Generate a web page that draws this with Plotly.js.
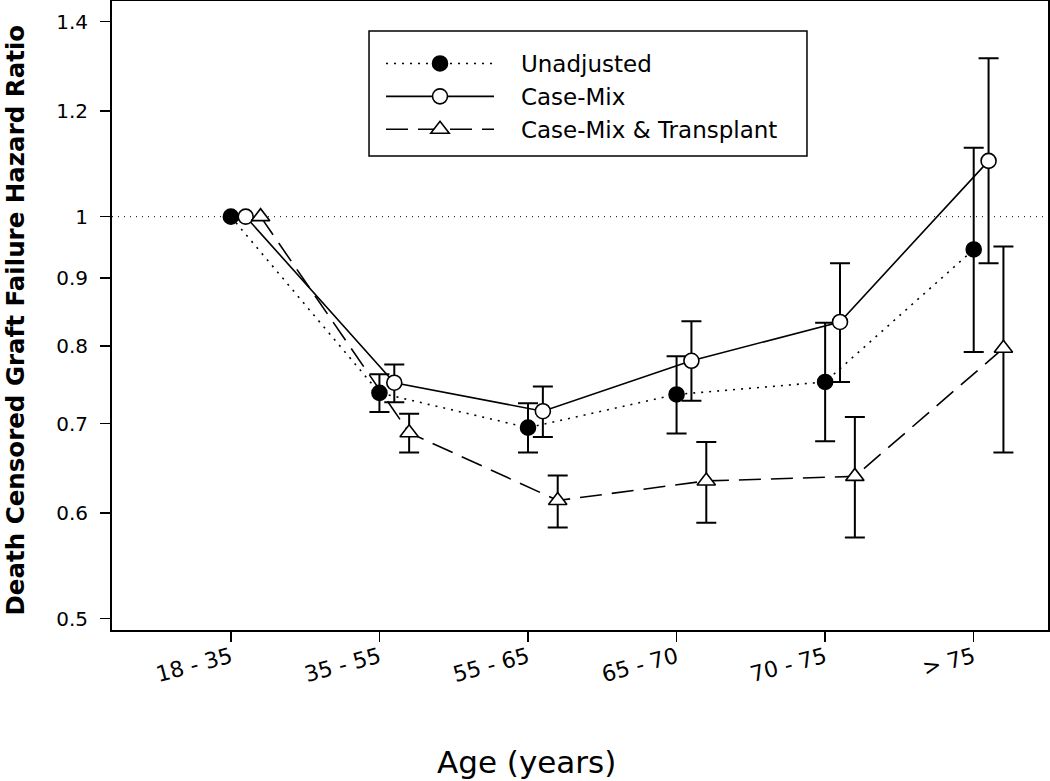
<!DOCTYPE html>
<html>
<head>
<meta charset="utf-8">
<script src="https://cdn.plot.ly/plotly-3.0.1.min.js"></script>
<style>html,body{margin:0;padding:0;background:#fff;}#chart{width:1050px;height:781px;}</style>
</head>
<body>
<div id="chart"></div>
<script>
var categories = ['18 - 35', '35 - 55', '55 - 65', '65 - 70', '70 - 75', '> 75'];

var unadjusted   = [1.0, 0.738, 0.695, 0.736, 0.752, 0.945];
var unadjustedLo = [null, 0.714, 0.666, 0.688, 0.679, 0.792];
var unadjustedHi = [null, 0.762, 0.725, 0.786, 0.833, 1.126];

var caseMix   = [1.0, 0.751, 0.715, 0.780, 0.834, 1.101];
var caseMixLo = [null, 0.726, 0.684, 0.728, 0.752, 0.923];
var caseMixHi = [null, 0.775, 0.746, 0.835, 0.923, 1.314];

var transplant   = [1.0, 0.689, 0.613, 0.634, 0.639, 0.797];
var transplantLo = [null, 0.666, 0.585, 0.590, 0.575, 0.666];
var transplantHi = [null, 0.712, 0.640, 0.678, 0.708, 0.950];

var seriesNames = ['Unadjusted', 'Case-Mix', 'Case-Mix & Transplant'];

var yTickVals = [0.5, 0.6, 0.7, 0.8, 0.9, 1, 1.2, 1.4];
var yTickText = ['0.5', '0.6', '0.7', '0.8', '0.9', '1', '1.2', '1.4'];

var FONT = 'DejaVu Sans, Verdana, sans-serif';
var PAD = '\u00a0\u00a0\u00a0';

function idx(offset) { return categories.map(function (c, i) { return i + offset; }); }
function plus(v, hi) { return v.map(function (x, i) { return hi[i] == null ? NaN : hi[i] - x; }); }
function minus(v, lo) { return v.map(function (x, i) { return lo[i] == null ? NaN : x - lo[i]; }); }

function series(name, vals, lo, hi, offset, dash, symbol, fill) {
  return {
    type: 'scatter', mode: 'lines+markers', name: PAD + name,
    x: idx(offset), y: vals,
    line: { color: '#000', width: 1.6, dash: dash },
    marker: { symbol: symbol, size: symbol.indexOf('triangle') === 0 ? 16 : 15, color: fill,
              line: { color: '#000', width: 1.6 } },
    error_y: { type: 'data', symmetric: false, array: plus(vals, hi), arrayminus: minus(vals, lo),
               color: '#000', thickness: 2, width: 10 },
    cliponaxis: false
  };
}

var data = [
  series(seriesNames[0], unadjusted, unadjustedLo, unadjustedHi, 0, '2px,6px', 'circle', '#000'),
  series(seriesNames[1], caseMix, caseMixLo, caseMixHi, 0.1, 'solid', 'circle', '#fff'),
  series(seriesNames[2], transplant, transplantLo, transplantHi, 0.2, '22px,10px', 'triangle-up', '#fff')
];

var layout = {
  width: 1050, height: 781,
  margin: { l: 112, r: 2, t: 1, b: 151 },
  paper_bgcolor: '#fff', plot_bgcolor: '#fff',
  font: { family: FONT, color: '#000', size: 20 },
  showlegend: true,
  legend: {
    x: 0.2874, y: 0.9348, xanchor: 'left', yanchor: 'top',
    borderwidth: 0, bgcolor: 'rgba(0,0,0,0)',
    font: { family: FONT, size: 23, color: '#000' },
    itemwidth: 108, tracegroupgap: 0
  },
  xaxis: {
    range: [-0.80, 5.50],
    tickvals: idx(0), ticktext: categories, tickangle: -15,
    ticks: 'outside', ticklen: 10, tickwidth: 1.5, tickcolor: '#000',
    ticklabelstandoff: -6,
    showline: true, linecolor: '#000', linewidth: 2, mirror: true,
    showgrid: false, zeroline: false,
    tickfont: { family: FONT, size: 22, color: '#000' }
  },
  yaxis: {
    type: 'log',
    range: [Math.log10(0.4903), Math.log10(1.4505)],
    tickvals: yTickVals, ticktext: yTickText,
    ticks: 'outside', ticklen: 10, tickwidth: 1.5, tickcolor: '#000',
    ticklabelstandoff: 8,
    showline: true, linecolor: '#000', linewidth: 2, mirror: true,
    showgrid: false, zeroline: false,
    tickfont: { family: FONT, size: 20, color: '#000' }
  },
  shapes: [
    { type: 'line', xref: 'paper', x0: 0, x1: 1, yref: 'y', y0: 1, y1: 1,
      line: { color: '#000', width: 1, dash: '1px,5px' }, layer: 'below' },
    { type: 'rect', xref: 'paper', yref: 'paper', x0: 0.2746, x1: 0.7425, y0: 0.7536, y1: 0.9523,
      line: { color: '#000', width: 1.5 }, fillcolor: '#fff', layer: 'below' }
  ],
  annotations: [
    { text: 'Death Censored Graft Failure Hazard Ratio', textangle: -90,
      xref: 'paper', yref: 'paper', x: -0.1026, y: 0.4936, xanchor: 'center', yanchor: 'middle',
      showarrow: false, font: { family: FONT, size: 24.5, color: '#000', weight: 'bold' } },
    { text: 'Age (years)',
      xref: 'paper', yref: 'paper', x: 0.4430, y: -0.2095, xanchor: 'center', yanchor: 'middle',
      showarrow: false, font: { family: FONT, size: 31, color: '#000' } }
  ]
};

Plotly.newPlot('chart', data, layout, { displayModeBar: false, staticPlot: true });
</script>
</body>
</html>
